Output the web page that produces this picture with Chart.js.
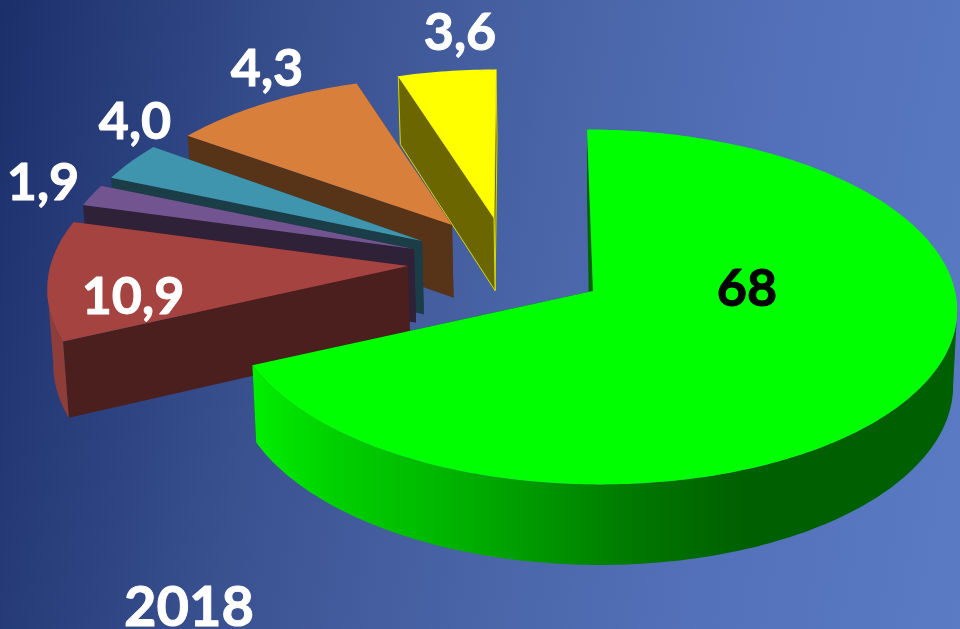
<!DOCTYPE html>
<html>
<head>
<meta charset="utf-8">
<style>
html,body{margin:0;padding:0;width:960px;height:629px;overflow:hidden;background:linear-gradient(100deg,#1b2f6b 0%,#3a5190 30%,#4a66a8 55%,#5370ba 75%,#5b7bc5 100%);}
canvas{display:block;}
</style>
<script src="https://cdn.jsdelivr.net/npm/chart.js@4"></script>
</head>
<body>
<canvas id="c" width="960" height="629"></canvas>
<script>
const categories = ["A","B","C","D","E","F"];
const sliceShares = [68.33, 10.83, 2.0, 3.56, 10.28, 5.0];
const sliceLabels = ["68","10,9","1,9","4,0","4,3","3,6"];
const chartYear = "2018";
const topColors = ["#00ff00","#a54341","#725590","#4095ae","#d97f3c","#ffff00"];

const wallColors = ["#006400","#4a1f1d","#2e2138","#1b3d48","#573318","#6b6600"];
const rimColors = [null,"#8f3d38","#5a4272","#2f7488","#a8622e","#b0b000"];
const labelColors = ["#000000","#ffffff","#ffffff","#ffffff","#ffffff","#ffffff"];
const labelPos = [[747,289],[133,297],[43,183],[135,122],[267,69],[460,33]];
const geom = [
  {ax:593,ay:291,sx:.992,sy:1,k:.09,b:6.5,aShift:-3},
  {ax:408,ay:266,sx:.98,sy:1,k:.13,b:0,aShift:0},
  {ax:414,ay:249,sx:.97,sy:1,k:.13,b:0,aShift:0},
  {ax:422,ay:241,sx:.965,sy:1,k:.13,b:0,aShift:0},
  {ax:452,ay:225,sx:.95,sy:.95,k:.13,b:0,aShift:0},
  {ax:494,ay:218,sx:.94,sy:.92,k:.09,b:-2.2,aShift:0}
];
const A = 365, D = 176;

function project(g, theta, r){
  const x = Math.sin(theta)*r, y = -Math.cos(theta)*r;
  const d = 1 - g.k*y;
  return [g.ax + (A*g.sx*x + g.b*y)/d, g.ay + (D*g.sy*y)/d];
}
function drop(p, g, isApex){
  const sh = isApex && g.aShift ? g.aShift : (590-p[0])*0.011;
  return [p[0]+sh, p[1]+66+0.03*p[1]];
}
function poly(ctx, pts){
  ctx.beginPath();
  pts.forEach((p,i)=> i? ctx.lineTo(p[0],p[1]) : ctx.moveTo(p[0],p[1]));
  ctx.closePath();
}

const pie3d = {
  id:"pie3d",
  beforeDatasetsDraw(chart){
    const ctx = chart.ctx;
    const arcs = chart.getDatasetMeta(0).data;
    const order = [5,4,3,2,1,0];
    order.forEach(i=>{
      const arc = arcs[i], g = geom[i];
      const t0 = arc.startAngle + Math.PI/2, t1 = arc.endAngle + Math.PI/2;
      const n = Math.max(8, Math.round((t1-t0)*180/Math.PI));
      const rim = [];
      for(let j=0;j<=n;j++) rim.push(project(g, t0+(t1-t0)*j/n, 1));
      const apex = project(g,0,0);
      const apexB = drop(apex,g,true);
      const wall = wallColors[i];
      ctx.save();
      [rim[rim.length-1], rim[0]].forEach(p=>{
        poly(ctx,[apex,p,drop(p,g,false),apexB]);
        ctx.fillStyle = wall; ctx.fill();
        if(i===5){ctx.strokeStyle="#d8d800";ctx.lineWidth=1;ctx.stroke();}
      });
      const front = [];
      for(let j=0;j<n;j++){ if(rim[j+1][0] < rim[j][0]) { if(!front.length) front.push(rim[j]); front.push(rim[j+1]); } }
      if(front.length){
        const pts = front.concat(front.map(p=>drop(p,g,false)).reverse());
        poly(ctx,pts);
        if(i===0){
          const gr = ctx.createLinearGradient(250,0,960,0);
          gr.addColorStop(0,"#00f000");
          gr.addColorStop(.12,"#00d000");
          gr.addColorStop(.28,"#00b400");
          gr.addColorStop(.42,"#009400");
          gr.addColorStop(.56,"#007400");
          gr.addColorStop(.7,"#005f00");
          gr.addColorStop(1,"#005f00");
          ctx.fillStyle = gr;
        } else ctx.fillStyle = rimColors[i];
        ctx.fill();
      }
      poly(ctx,[apex].concat(rim));
      ctx.fillStyle = arc.options.backgroundColor;
      ctx.fill();
      ctx.restore();
    });
    ctx.save();
    ctx.textAlign="center"; ctx.textBaseline="middle";
    ctx.lineJoin="round"; ctx.lineWidth=1;
    ctx.font='bold 52px Lato, "Open Sans", sans-serif';
    sliceLabels.forEach((t,i)=>{
      ctx.fillStyle = labelColors[i];
      ctx.strokeStyle = labelColors[i];
      ctx.fillText(t,labelPos[i][0],labelPos[i][1]);
      ctx.strokeText(t,labelPos[i][0],labelPos[i][1]);
    });
    ctx.fillStyle="#ffffff"; ctx.strokeStyle="#ffffff";
    ctx.font='bold 56px Lato, "Open Sans", sans-serif';
    ctx.fillText(chartYear,189,608);
    ctx.strokeText(chartYear,189,608);
    ctx.restore();
    return false;
  }
};

new Chart(document.getElementById("c"),{
  type:"pie",
  data:{labels:categories,datasets:[{data:sliceShares,backgroundColor:topColors,borderWidth:0}]},
  options:{
    responsive:false,animation:false,
    plugins:{legend:{display:false},tooltip:{enabled:false}}
  },
  plugins:[pie3d]
});
</script>
</body>
</html>
